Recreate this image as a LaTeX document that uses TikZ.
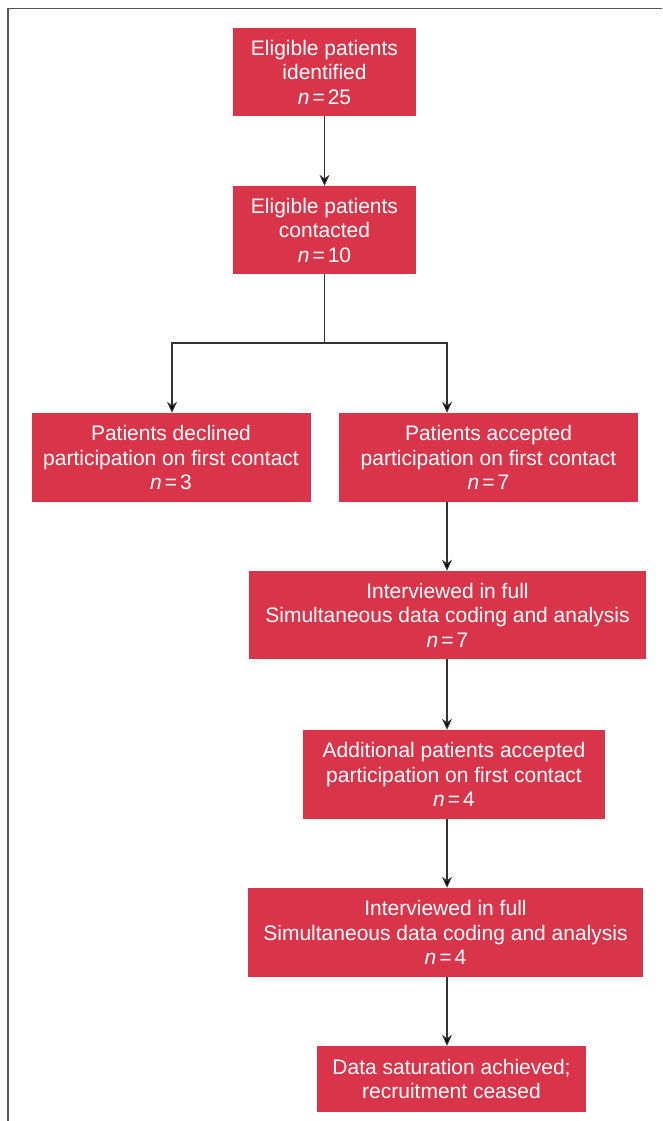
\documentclass[tikz,border=0pt]{standalone}
\usepackage{fontspec}
\setmainfont{Liberation Sans}
\usetikzlibrary{arrows.meta}
\definecolor{boxred}{HTML}{D9354A}
\definecolor{framegray}{HTML}{555555}
\definecolor{linegray}{HTML}{333333}
\newcommand{\nn}[1]{\textit{n}\hspace{3pt}=\hspace{3pt}#1}
\tikzset{
  box/.style={fill=boxred, text=white, align=center, inner sep=0pt,
    font=\fontsize{21}{24.5}\selectfont},
  link/.style={draw=linegray, line width=1.1pt,
    -{Stealth[length=11pt,width=10pt,inset=3.5pt,fill=black]}},
  frame/.style={draw=framegray, line width=1.5pt}
}
\begin{document}
\begin{tikzpicture}[x=1pt,y=-1pt]
\useasboundingbox (0,0) rectangle (662,1121);
\coordinate (fa) at (8,1121);
\coordinate (fb) at (8,8.5);
\coordinate (fc) at (662,8.5);
\draw[frame] (fa) -- (fb) -- (fc);

\node[box, minimum width=183pt, minimum height=88pt] (b1) at (324.5,72) {Eligible patients\\identified\\\nn{25}};
\node[box, minimum width=183pt, minimum height=88pt] (b2) at (324.5,230) {Eligible patients\\contacted\\\nn{10}};
\node[box, minimum width=279pt, minimum height=89pt] (b3) at (171,457.5) {Patients declined\\participation on first contact\\\nn{3}};
\node[box, minimum width=299pt, minimum height=89pt] (b4) at (488.5,457.5) {Patients accepted\\participation on first contact\\\nn{7}};
\node[box, minimum width=397pt, minimum height=88pt] (b5) at (447.5,615) {Interviewed in full\\Simultaneous data coding and analysis\\\nn{7}};
\node[box, minimum width=302pt, minimum height=89pt] (b6) at (454,774.5) {Additional patients accepted\\participation on first contact\\\nn{4}};
\node[box, minimum width=395pt, minimum height=89pt] (b7) at (445.5,932.5) {Interviewed in full\\Simultaneous data coding and analysis\\\nn{4}};
\node[box, minimum width=269pt, minimum height=66pt] (b8) at (451.5,1079) {Data saturation achieved;\\recruitment ceased};

\coordinate (col) at (447,0);
\coordinate (split) at (324.5,343);
\coordinate (sl) at (172,343);
\coordinate (sr) at (447,343);

\draw[link] (b1) -- (b2);
\draw[draw=linegray, line width=1.1pt] (b2.south) -- (split);
\draw[link] (split) -- (sl) -- (b3.north -| sl);
\draw[link] (split) -- (sr) -- (b4.north -| sr);
\draw[link] (b4.south -| col) -- (b5.north -| col);
\draw[link] (b5.south -| col) -- (b6.north -| col);
\draw[link] (b6.south -| col) -- (b7.north -| col);
\draw[link] (b7.south -| col) -- (b8.north -| col);
\end{tikzpicture}
\end{document}
